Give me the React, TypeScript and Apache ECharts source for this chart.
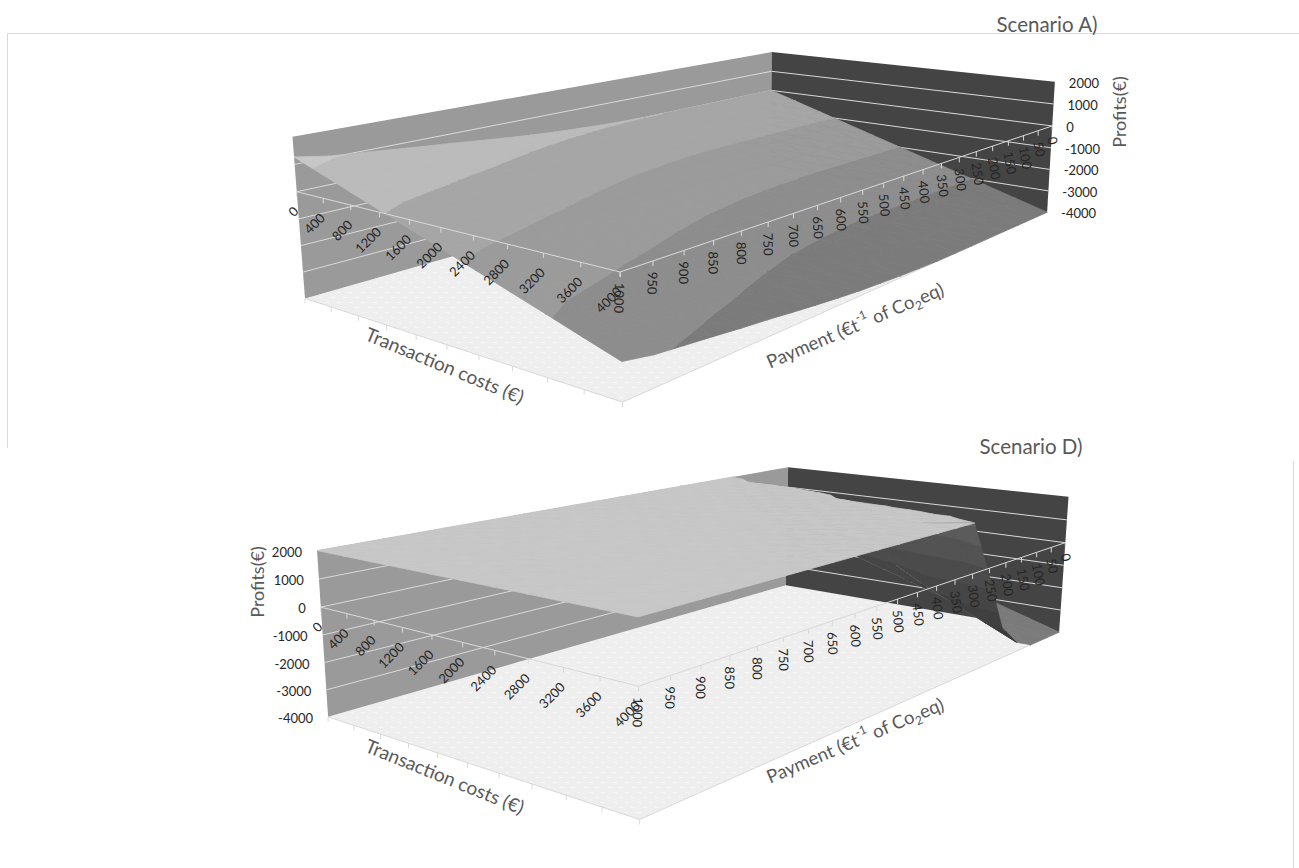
import React, { useEffect, useRef } from "react";
import * as echarts from "echarts";

// Axis categories shared by both surfaces.
const paymentValues = [0, 50, 100, 150, 200, 250, 300, 350, 400, 450, 500, 550, 600, 650, 700, 750, 800, 850, 900, 950, 1000];
const transactionValues = [0, 400, 800, 1200, 1600, 2000, 2400, 2800, 3200, 3600, 4000];
const profitTicks = [2000, 1000, 0, -1000, -2000, -3000, -4000];

// Scenario A profits: one list per transaction cost, one value per payment.
const scenarioA_T0 = [0, 0, 0, 0, 0, 0, 0, 10, 40, 80, 140, 200, 290, 390, 500, 620, 720, 840, 950, 1060, 1270];
const scenarioA_T400 = [-400, -400, -400, -400, -400, -400, -400, -390, -360, -320, -260, -200, -110, -10, 100, 220, 320, 440, 550, 660, 870];
const scenarioA_T800 = [-800, -800, -800, -800, -800, -800, -800, -790, -760, -720, -660, -600, -510, -410, -300, -180, -80, 40, 150, 260, 470];
const scenarioA_T1200 = [-1200, -1200, -1200, -1200, -1200, -1200, -1200, -1190, -1160, -1120, -1060, -1000, -910, -810, -700, -580, -480, -360, -250, -140, 70];
const scenarioA_T1600 = [-1600, -1600, -1600, -1600, -1600, -1600, -1600, -1590, -1560, -1520, -1460, -1400, -1310, -1210, -1100, -980, -880, -760, -650, -540, -330];
const scenarioA_T2000 = [-2000, -2000, -2000, -2000, -2000, -2000, -2000, -1990, -1960, -1920, -1860, -1800, -1710, -1610, -1500, -1380, -1280, -1160, -1050, -940, -730];
const scenarioA_T2400 = [-2400, -2400, -2400, -2400, -2400, -2400, -2400, -2390, -2360, -2320, -2260, -2200, -2110, -2010, -1900, -1780, -1680, -1560, -1450, -1340, -1130];
const scenarioA_T2800 = [-2800, -2800, -2800, -2800, -2800, -2800, -2800, -2790, -2760, -2720, -2660, -2600, -2510, -2410, -2300, -2180, -2080, -1960, -1850, -1740, -1530];
const scenarioA_T3200 = [-3200, -3200, -3200, -3200, -3200, -3200, -3200, -3190, -3160, -3120, -3060, -3000, -2910, -2810, -2700, -2580, -2480, -2360, -2250, -2140, -1930];
const scenarioA_T3600 = [-3600, -3600, -3600, -3600, -3600, -3600, -3600, -3590, -3560, -3520, -3460, -3400, -3310, -3210, -3100, -2980, -2880, -2760, -2650, -2540, -2330];
const scenarioA_T4000 = [-4000, -4000, -4000, -4000, -4000, -4000, -4000, -3990, -3960, -3920, -3860, -3800, -3710, -3610, -3500, -3380, -3280, -3160, -3050, -2940, -2730];

// Scenario D profits; anything above the axis is drawn flat at its top.
const scenarioD_T0 = [0, 0, 300, 1500, 3500, 2000, 2000, 2000, 2000, 2000, 2000, 2000, 2000, 2000, 2000, 2000, 2000, 2000, 2000, 2000, 2000];
const scenarioD_T400 = [-400, -400, -100, 900, 2300, 4000, 2000, 2000, 2000, 2000, 2000, 2000, 2000, 2000, 2000, 2000, 2000, 2000, 2000, 2000, 2000];
const scenarioD_T800 = [-800, -800, -500, 500, 2300, 4000, 2000, 2000, 2000, 2000, 2000, 2000, 2000, 2000, 2000, 2000, 2000, 2000, 2000, 2000, 2000];
const scenarioD_T1200 = [-1200, -1200, -900, 100, 2000, 3800, 2000, 2000, 2000, 2000, 2000, 2000, 2000, 2000, 2000, 2000, 2000, 2000, 2000, 2000, 2000];
const scenarioD_T1600 = [-1600, -1600, -1300, -300, 1500, 3500, 2000, 2000, 2000, 2000, 2000, 2000, 2000, 2000, 2000, 2000, 2000, 2000, 2000, 2000, 2000];
const scenarioD_T2000 = [-2000, -2000, -1700, -700, 700, 2150, 4000, 2000, 2000, 2000, 2000, 2000, 2000, 2000, 2000, 2000, 2000, 2000, 2000, 2000, 2000];
const scenarioD_T2400 = [-2400, -2400, -2100, -1100, 100, 1850, 3800, 2000, 2000, 2000, 2000, 2000, 2000, 2000, 2000, 2000, 2000, 2000, 2000, 2000, 2000];
const scenarioD_T2800 = [-2800, -2800, -2500, -1800, -600, 1700, 3200, 2000, 2000, 2000, 2000, 2000, 2000, 2000, 2000, 2000, 2000, 2000, 2000, 2000, 2000];
const scenarioD_T3200 = [-3200, -3200, -2900, -2400, -1300, 1500, 3000, 2000, 2000, 2000, 2000, 2000, 2000, 2000, 2000, 2000, 2000, 2000, 2000, 2000, 2000];
const scenarioD_T3600 = [-3600, -3600, -3400, -3000, -2000, 1000, 3000, 2000, 2000, 2000, 2000, 2000, 2000, 2000, 2000, 2000, 2000, 2000, 2000, 2000, 2000];
const scenarioD_T4000 = [-4000, -4000, -4000, -3600, -2700, -330, 1900, 5000, 2000, 2000, 2000, 2000, 2000, 2000, 2000, 2000, 2000, 2000, 2000, 2000, 2000];

const gridA = [scenarioA_T0, scenarioA_T400, scenarioA_T800, scenarioA_T1200, scenarioA_T1600, scenarioA_T2000, scenarioA_T2400, scenarioA_T2800, scenarioA_T3200, scenarioA_T3600, scenarioA_T4000];
const gridD = [scenarioD_T0, scenarioD_T400, scenarioD_T800, scenarioD_T1200, scenarioD_T1600, scenarioD_T2000, scenarioD_T2400, scenarioD_T2800, scenarioD_T3200, scenarioD_T3600, scenarioD_T4000];

// Band fills of the surface, lowest profit first, for the upper and the under side.
const bandEdges = [-4000, -3000, -2000, -1000, 0, 1000, 2000];
const bandTop = ["#7b7b7b", "#8d8d8d", "#9b9b9b", "#a6a6a6", "#bbbbbb", "#c7c7c7"];
const bandUnder = ["#3a3a3a", "#3f3f3f", "#454545", "#4b4b4b", "#535353", "#5b5b5b"];

// Camera fit for each box: [transaction, payment, profit, screen x, screen y].
const cameraA = [
  [0, 1000, 2000, 293, 137], [0, 1000, 0, 297, 192], [0, 1000, -4000, 304, 298],
  [0, 0, 2000, 771, 52], [0, 0, 0, 770, 91], [0, 0, -4000, 773, 165],
  [4000, 0, 2000, 1056, 81], [4000, 0, 0, 1052, 126], [4000, 0, -4000, 1046, 213],
  [4000, 1000, 0, 621, 272], [4000, 1000, -4000, 622, 402],
];
const cameraD = [
  [0, 1000, 2000, 317, 551], [0, 1000, 0, 321, 607], [0, 1000, -4000, 328, 717],
  [0, 0, 2000, 788, 467], [0, 0, -4000, 786, 585],
  [4000, 0, 2000, 1069, 497], [4000, 0, 0, 1065, 543], [4000, 0, -4000, 1059, 632],
  [4000, 1000, 2000, 638, 617], [4000, 1000, 0, 638, 685], [4000, 1000, -4000, 640, 820],
];

const FONT = "Lato, 'Open Sans', sans-serif";
const WALL_LEFT = "#9a9a9a";
const WALL_RIGHT = "#444444";
const GRID_LINE = "#d9d9d9";
const TITLE_GREY = "#595959";
const TICK_TEXT = "#262626";

type Project = (t: number, p: number, z: number) => [number, number];

// Least-squares projective camera mapping box coordinates to the screen.
function fitCamera(samples: number[][]): Project {
  const n = 11;
  const ata = Array.from({ length: n }, () => new Array(n + 1).fill(0));
  const add = (row: number[], rhs: number) => {
    for (let a = 0; a < n; a++) {
      for (let b = 0; b < n; b++) ata[a][b] += row[a] * row[b];
      ata[a][n] += row[a] * rhs;
    }
  };
  for (const [t, p, z, sx, sy] of samples) {
    const u = t / 4000, v = p / 1000, w = (z + 4000) / 6000;
    const x = sx / 1000, y = sy / 1000;
    add([u, v, w, 1, 0, 0, 0, 0, -x * u, -x * v, -x * w], x);
    add([0, 0, 0, 0, u, v, w, 1, -y * u, -y * v, -y * w], y);
  }
  for (let c = 0; c < n; c++) {
    let best = c;
    for (let r = c + 1; r < n; r++) if (Math.abs(ata[r][c]) > Math.abs(ata[best][c])) best = r;
    [ata[c], ata[best]] = [ata[best], ata[c]];
    for (let r = 0; r < n; r++) {
      if (r === c) continue;
      const k = ata[r][c] / ata[c][c];
      for (let m = c; m <= n; m++) ata[r][m] -= k * ata[c][m];
    }
  }
  const m = ata.map((row, i) => row[n] / row[i]);
  return (t, p, z) => {
    const u = t / 4000, v = p / 1000, w = (z + 4000) / 6000;
    const d = m[8] * u + m[9] * v + m[10] * w + 1;
    return [
      (1000 * (m[0] * u + m[1] * v + m[2] * w + m[3])) / d,
      (1000 * (m[4] * u + m[5] * v + m[6] * w + m[7])) / d,
    ];
  };
}

type V = { t: number; p: number; z: number };

// Keeps the part of a polygon on one side of a profit level.
function clipLevel(poly: V[], level: number, keepAbove: boolean): V[] {
  const out: V[] = [];
  const inside = (a: V) => (keepAbove ? a.z >= level : a.z <= level);
  for (let i = 0; i < poly.length; i++) {
    const a = poly[i];
    const b = poly[(i + 1) % poly.length];
    if (inside(a)) out.push(a);
    if (inside(a) !== inside(b)) {
      const k = (level - a.z) / (b.z - a.z);
      out.push({ t: a.t + k * (b.t - a.t), p: a.p + k * (b.p - a.p), z: level });
    }
  }
  return out;
}

function signedArea(pts: number[][]): number {
  let s = 0;
  for (let i = 0; i < pts.length; i++) {
    const a = pts[i];
    const b = pts[(i + 1) % pts.length];
    s += a[0] * b[1] - b[0] * a[1];
  }
  return s / 2;
}

function floorTexture() {
  const c = document.createElement("canvas");
  c.width = 12;
  c.height = 10;
  const g = c.getContext("2d")!;
  g.fillStyle = "#eeeeee";
  g.fillRect(0, 0, 12, 10);
  g.fillStyle = "#f6f6f6";
  g.fillRect(1, 2, 4, 1);
  g.fillRect(7, 7, 4, 1);
  return c;
}

function line(a: number[], b: number[], stroke: string, lineWidth = 1) {
  return {
    type: "line",
    shape: { x1: a[0], y1: a[1], x2: b[0], y2: b[1] },
    style: { stroke, lineWidth },
  };
}

function polygon(points: number[][], fill: any, stroke?: string) {
  return {
    type: "polygon",
    shape: { points },
    style: stroke ? { fill, stroke, lineWidth: 0.8, lineJoin: "round" } : { fill },
  };
}

function buildSeries(grid: number[][], project: Project, texture: HTMLCanvasElement, profitLabelSide: "left" | "right") {
  const [tMax, pMax, zMin, zMax] = [4000, 1000, -4000, 2000];

  const backdrop = {
    type: "custom",
    coordinateSystem: "none",
    silent: true,
    data: [[0]],
    renderItem: () => {
      const children: any[] = [];
      children.push(polygon([project(0, 0, zMin), project(tMax, 0, zMin), project(tMax, pMax, zMin), project(0, pMax, zMin)], { image: texture, repeat: "repeat" }));
      children.push(polygon([project(0, pMax, zMax), project(0, 0, zMax), project(0, 0, zMin), project(0, pMax, zMin)], WALL_LEFT));
      children.push(polygon([project(0, 0, zMax), project(tMax, 0, zMax), project(tMax, 0, zMin), project(0, 0, zMin)], WALL_RIGHT));
      for (const z of profitTicks) {
        if (z === zMax || z === zMin) continue;
        children.push(line(project(0, pMax, z), project(0, 0, z), GRID_LINE));
        children.push(line(project(0, 0, z), project(tMax, 0, z), GRID_LINE));
      }
      // Floor outline along the transaction edge, with its ticks.
      children.push(line(project(0, pMax, zMin), project(tMax, pMax, zMin), GRID_LINE));
      children.push(line(project(tMax, pMax, zMin), project(tMax, 0, zMin), GRID_LINE));
      for (const t of transactionValues) {
        const q = project(t, pMax, zMin);
        children.push(line(q, [q[0], q[1] + 5], GRID_LINE));
      }
      return { type: "group", children };
    },
  };

  // Cells are listed from the far corner to the near one so nearer cells paint over farther ones.
  const cells: number[][] = [];
  for (let i = 0; i < transactionValues.length - 1; i++) {
    for (let j = 0; j < paymentValues.length - 1; j++) cells.push([i, j]);
  }

  const refArea = signedArea([project(0, 0, 0), project(tMax, 0, 0), project(0, pMax, 0)]);

  const surface = {
    type: "custom",
    coordinateSystem: "none",
    silent: true,
    data: cells,
    renderItem: (_: any, api: any) => {
      const i = api.value(0);
      const j = api.value(1);
      const v = (a: number, b: number): V => ({ t: transactionValues[a], p: paymentValues[b], z: grid[a][b] });
      const triangles = [
        [v(i, j), v(i + 1, j), v(i, j + 1)],
        [v(i + 1, j), v(i + 1, j + 1), v(i, j + 1)],
      ];
      const children: any[] = [];
      const emit = (piece: V[], band: number) => {
        if (piece.length < 3) return;
        const pts = piece.map((q) => project(q.t, q.p, q.z));
        const area = signedArea(pts);
        if (Math.abs(area) < 0.02) return;
        const fill = area * refArea > 0 ? bandTop[band] : bandUnder[band];
        children.push(polygon(pts, fill, fill));
      };
      for (const tri of triangles) {
        for (let b = 0; b < bandTop.length; b++) {
          emit(clipLevel(clipLevel(tri, bandEdges[b], true), bandEdges[b + 1], false), b);
        }
        // Parts beyond the profit axis lie flat on its top.
        const above = clipLevel(tri, zMax, true).map((q) => ({ ...q, z: zMax }));
        if (tri.some((q) => q.z > zMax)) emit(above, bandTop.length - 1);
      }
      return { type: "group", children };
    },
  };

  const overlay = {
    type: "custom",
    coordinateSystem: "none",
    silent: true,
    data: [[0]],
    renderItem: () => {
      const children: any[] = [];
      children.push(line(project(0, pMax, 0), project(tMax, pMax, 0), GRID_LINE));
      children.push(line(project(tMax, pMax, 0), project(tMax, 0, 0), GRID_LINE));
      for (const t of transactionValues) {
        const q = project(t, pMax, 0);
        children.push(line(q, [q[0], q[1] + 5], GRID_LINE));
        children.push({
          type: "text",
          x: q[0] - 1,
          y: q[1] + 17,
          rotation: Math.PI / 4,
          style: { text: String(t), fontSize: 13, fontFamily: FONT, fill: TICK_TEXT, align: "right", verticalAlign: "middle" },
        });
      }
      for (const p of paymentValues) {
        const q = project(tMax, p, 0);
        children.push(line(q, [q[0], q[1] + 5], GRID_LINE));
        children.push({
          type: "text",
          x: q[0],
          y: q[1] + 11,
          rotation: (-(78 + (14 * p) / 1000) * Math.PI) / 180,
          style: { text: String(p), fontSize: 13, fontFamily: FONT, fill: TICK_TEXT, align: "left", verticalAlign: "middle" },
        });
      }
      for (const z of profitTicks) {
        const onRight = profitLabelSide === "right";
        const q = onRight ? project(tMax, 0, z) : project(0, pMax, z);
        children.push({
          type: "text",
          x: onRight ? q[0] + 14 : q[0] - 15,
          y: q[1] + 1,
          style: { text: String(z), fontSize: 13, fontFamily: FONT, fill: TICK_TEXT, align: onRight ? "left" : "right", verticalAlign: "middle" },
        });
      }
      return { type: "group", children };
    },
  };

  return [backdrop, surface, overlay];
}

function axisTitle(text: string, x: number, y: number, degrees: number, fontSize = 19) {
  return {
    type: "text",
    x,
    y,
    rotation: (degrees * Math.PI) / 180,
    style: { text, x: 0, y: 0, fontSize, fontFamily: FONT, fill: TITLE_GREY, align: "center", verticalAlign: "middle" },
  };
}

function paymentTitle(x: number, y: number) {
  const base = { fontFamily: FONT, fill: TITLE_GREY };
  return {
    type: "text",
    x,
    y,
    rotation: (23 * Math.PI) / 180,
    style: {
      text: "Payment (€t{sup|-1} of Co{sub|2}eq)",
      ...base,
      fontSize: 18.5,
      lineHeight: 25,
      align: "center",
      verticalAlign: "middle",
      rich: {
        sup: { ...base, fontSize: 12, verticalAlign: "top", lineHeight: 25 },
        sub: { ...base, fontSize: 12, verticalAlign: "bottom", lineHeight: 25 },
      },
    },
  };
}

export default function App() {
  const ref = useRef<HTMLDivElement>(null);
  useEffect(() => {
    const chart = echarts.init(ref.current!, undefined, { renderer: "svg" });
    const texture = floorTexture();
    const frame = (x1: number, y1: number, x2: number, y2: number) => ({
      type: "line",
      shape: { x1, y1, x2, y2 },
      style: { stroke: "#d9d9d9", lineWidth: 1 },
    });
    chart.setOption({
      animation: false,
      backgroundColor: "#ffffff",
      graphic: {
        elements: [
          frame(7.5, 33.5, 1299, 33.5),
          frame(7.5, 33.5, 7.5, 448),
          frame(1293.5, 461, 1293.5, 868),
          axisTitle("Scenario A)", 1047, 24, 0, 20.5),
          axisTitle("Scenario D)", 1031, 446, 0, 20.5),
          axisTitle("Profits(€)", 1119, 112, 90, 18),
          axisTitle("Profits(€)", 257, 582, 90, 18),
          axisTitle("Transaction costs (€)", 445, 365, -22.5),
          axisTitle("Transaction costs (€)", 445, 776, -22),
          paymentTitle(855, 325),
          paymentTitle(855, 740),
        ],
      },
      series: [
        ...buildSeries(gridA, fitCamera(cameraA), texture, "right"),
        ...buildSeries(gridD, fitCamera(cameraD), texture, "left"),
      ],
    });
    return () => chart.dispose();
  }, []);
  return <div ref={ref} style={{ position: "absolute", left: 0, top: 0, width: 1299, height: 868 }} />;
}
